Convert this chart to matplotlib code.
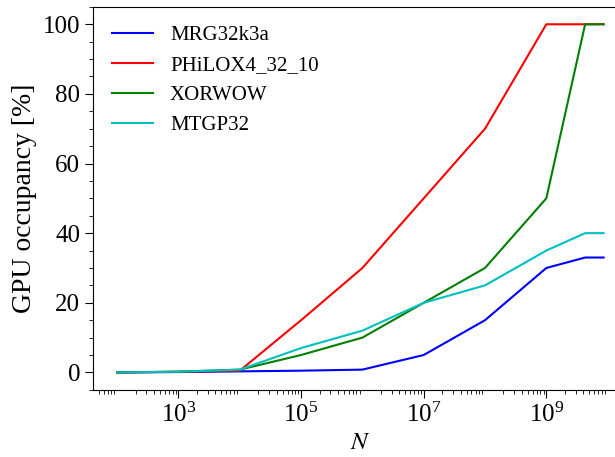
import numpy as np
import matplotlib
matplotlib.use('Agg')
import matplotlib.pyplot as plt
from matplotlib.ticker import AutoMinorLocator, LogLocator, NullFormatter

plt.rcParams['font.family'] = 'Liberation Serif'
plt.rcParams['mathtext.fontset'] = 'stix'

# problem sizes
N = [1e2, 1e3, 1e4, 1e5, 1e6, 1e7, 1e8, 1e9, 2**32, 2**33]

# occupancy per generator [%]
mrg = [0, 0.1, 0.3, 0.5, 0.8, 5, 15, 30, 33, 33]
philox = [0, 0.2, 0.5, 15, 30, 50, 70, 100, 100, 100]
xorwow = [0, 0.2, 0.8, 5, 10, 20, 30, 50, 100, 100]
mtgp = [0, 0.2, 0.8, 7, 12, 20, 25, 35, 40, 40]

fig = plt.figure(figsize=(6.15, 4.57), dpi=100)
ax = fig.add_axes([0.151, 0.147, 0.870, 0.838])

ax.plot(N, mrg, color='b', lw=1.5, label='MRG32k3a')
ax.plot(N, philox, color='r', lw=1.5, label='PHiLOX4_32_10')
ax.plot(N, xorwow, color='g', lw=1.5, label='XORWOW')
ax.plot(N, mtgp, color='c', lw=1.5, label='MTGP32')

ax.set_xscale('log')
ax.set_xticks([1e3, 1e5, 1e7, 1e9])
ax.xaxis.set_minor_locator(LogLocator(base=10, subs=np.arange(2, 10), numticks=100))
ax.xaxis.set_minor_formatter(NullFormatter())
ax.yaxis.set_minor_locator(AutoMinorLocator())
ax.tick_params(axis='both', which='major', labelsize=18, length=5.5)
ax.tick_params(axis='both', which='minor', length=3)
ax.set_xlabel('$N$', fontsize=18)
ax.set_ylabel('GPU occupancy [%]', fontsize=20)
ax.legend(loc='upper left', frameon=False, fontsize=15)

fig.savefig('out.png', dpi=100)
